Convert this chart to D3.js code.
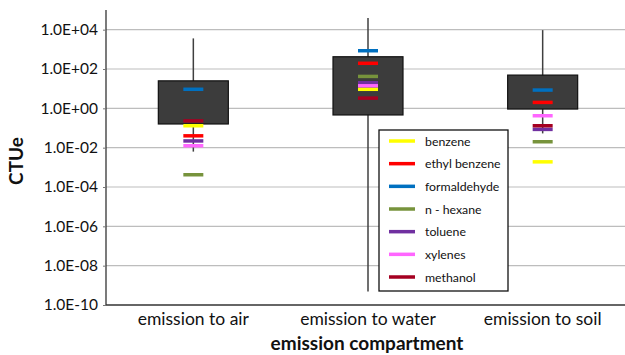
<!DOCTYPE html>
<html>
<head>
<meta charset="utf-8">
<script src="https://cdn.jsdelivr.net/npm/d3@7"></script>
<style>
  html, body { margin: 0; padding: 0; background: #fff; }
  svg { display: block; }
  text { font-family: Lato, "Open Sans", "Liberation Sans", sans-serif; fill: #111; }
</style>
</head>
<body>
<svg id="chart" width="625" height="355"></svg>
<script>
// Emission compartments on the x axis
const compartments = ["emission to air", "emission to water", "emission to soil"];

// Box-and-whisker summary per compartment (CTUe)
const whiskerMin = [0.0063, 4.8e-10, 0.053];
const boxLow     = [0.16, 0.46, 0.92];
const boxHigh    = [25, 420, 49];
const whiskerMax = [3600, 39000, 9500];

// Individual substances, one value per compartment
const substances = ["benzene", "ethyl benzene", "formaldehyde", "n - hexane", "toluene", "xylenes", "methanol"];
const substanceColors = ["#ffff00", "#ff0000", "#0070c0", "#77933c", "#7030a0", "#ff66ff", "#a50021"];
const benzene      = [0.13, 9.3, 0.0019];
const ethylBenzene = [0.04, 195, 2.0];
const formaldehyde = [9.3, 850, 8.5];
const nHexane      = [4.2e-4, 42, 0.02];
const toluene      = [0.022, 20, 0.085];
const xylenes      = [0.0125, 14, 0.42];
const methanol     = [0.23, 3.3, 0.13];
const substanceValues = [benzene, ethylBenzene, formaldehyde, nHexane, toluene, xylenes, methanol];

// Y axis ticks
const yTicks = [1e-10, 1e-8, 1e-6, 1e-4, 1e-2, 1e0, 1e2, 1e4];
const yTickLabels = ["1.0E-10", "1.0E-08", "1.0E-06", "1.0E-04", "1.0E-02", "1.0E+00", "1.0E+02", "1.0E+04"];

const svg = d3.select("#chart");
const W = 625;
const plotLeft = 106, plotTop = 10, plotBottom = 305;

const x = d3.scalePoint().domain(compartments).range([plotLeft, 630]).padding(0.5);
const y = d3.scaleLog().domain([1e-10, 1e5]).range([plotBottom, plotTop]);
const boxW = 70, markW = 20;

// Horizontal gridlines
svg.append("g").selectAll("line").data(yTicks.filter(t => t > 1e-10)).join("line")
  .attr("x1", plotLeft).attr("x2", W)
  .attr("y1", d => y(d)).attr("y2", d => y(d))
  .attr("stroke", "#bdbdbd").attr("stroke-width", 1.2);

// Y axis with custom labels
const yAxis = d3.axisLeft(y).tickValues(yTicks).tickSize(3)
  .tickFormat((d, i) => yTickLabels[i]);
const gy = svg.append("g").attr("transform", `translate(${plotLeft},0)`).call(yAxis);
gy.select(".domain").attr("stroke", "#333").attr("stroke-width", 1.3).attr("d", `M0,${plotTop}V${plotBottom}`);
gy.selectAll(".tick line").attr("stroke", "#777");
gy.selectAll(".tick text").attr("x", -8).style("font-size", "15.5px")
  .style("font-family", "Lato, 'Open Sans', sans-serif").attr("fill", "#111");

// X axis baseline
svg.append("line").attr("x1", plotLeft).attr("x2", W).attr("y1", plotBottom).attr("y2", plotBottom)
  .attr("stroke", "#333").attr("stroke-width", 1.3);

// Category labels
svg.append("g").selectAll("text").data(compartments).join("text")
  .attr("x", d => x(d)).attr("y", 325).attr("text-anchor", "middle")
  .style("font-size", "17.5px").text(d => d);

// Axis titles
svg.append("text").attr("x", 367).attr("y", 350).attr("text-anchor", "middle")
  .style("font-size", "19px").style("font-weight", "bold").text("emission compartment");
svg.append("text").attr("transform", "translate(23,161) rotate(-90)").attr("text-anchor", "middle")
  .style("font-size", "19px").style("font-weight", "bold").text("CTUe");

// Whiskers
const boxes = svg.append("g");
boxes.selectAll("line.whisker").data(compartments).join("line").attr("class", "whisker")
  .attr("x1", d => x(d)).attr("x2", d => x(d))
  .attr("y1", (d, i) => y(whiskerMax[i])).attr("y2", (d, i) => y(whiskerMin[i]))
  .attr("stroke", "#404040").attr("stroke-width", 1.5);

// Boxes
boxes.selectAll("rect").data(compartments).join("rect")
  .attr("x", d => x(d) - boxW / 2).attr("width", boxW)
  .attr("y", (d, i) => y(boxHigh[i])).attr("height", (d, i) => y(boxLow[i]) - y(boxHigh[i]))
  .attr("fill", "#3c3c3c").attr("stroke", "#111").attr("stroke-width", 1.2);

// Substance markers
substances.forEach((name, s) => {
  svg.append("g").selectAll("line").data(compartments).join("line")
    .attr("x1", d => x(d) - markW / 2).attr("x2", d => x(d) + markW / 2)
    .attr("y1", (d, i) => y(substanceValues[s][i])).attr("y2", (d, i) => y(substanceValues[s][i]))
    .attr("stroke", substanceColors[s]).attr("stroke-width", 3.5);
});

// Legend
const lg = svg.append("g");
lg.append("rect").attr("x", 379).attr("y", 130).attr("width", 129).attr("height", 161)
  .attr("fill", "#fff").attr("stroke", "#111").attr("stroke-width", 1.3);
const rowY = d3.scalePoint().domain(substances).range([141, 277]);
lg.selectAll("line").data(substances).join("line")
  .attr("x1", 389).attr("x2", 415)
  .attr("y1", d => rowY(d)).attr("y2", d => rowY(d))
  .attr("stroke", (d, i) => substanceColors[i]).attr("stroke-width", 3.5);
lg.selectAll("text").data(substances).join("text")
  .attr("x", 425).attr("y", d => rowY(d) + 4.5)
  .style("font-size", "12.3px").text(d => d);
</script>
</body>
</html>
